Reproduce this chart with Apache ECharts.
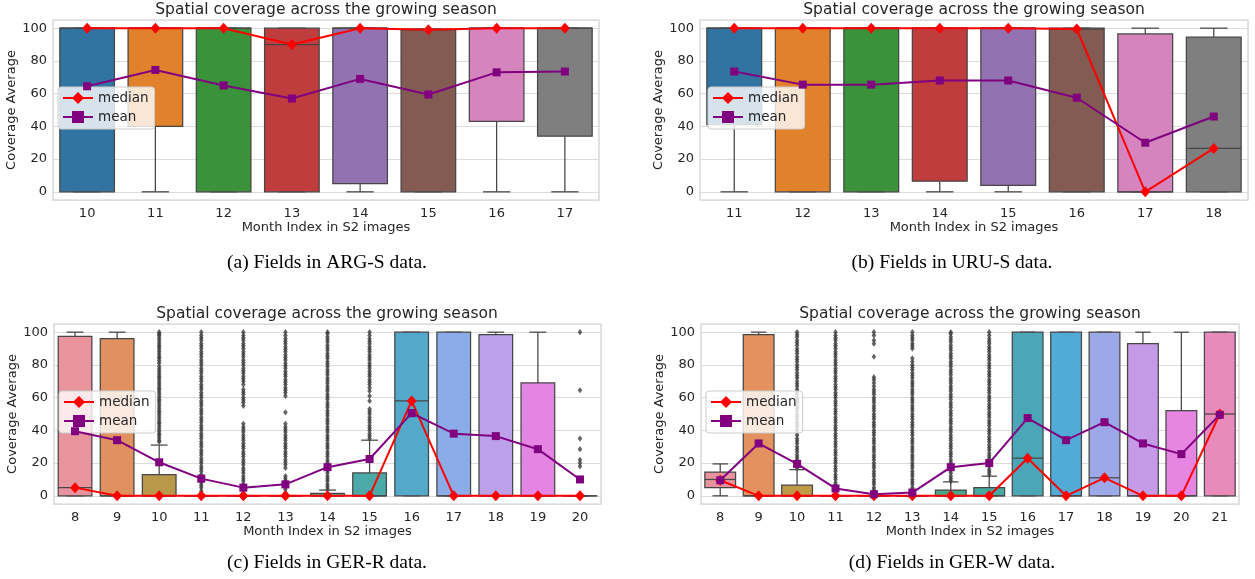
<!DOCTYPE html>
<html><head><meta charset="utf-8">
<script src="https://cdn.jsdelivr.net/npm/echarts@6/dist/echarts.min.js"></script>
<style>html,body{margin:0;padding:0;background:#fff}#c{width:1255px;height:579px}</style>
</head><body><div id="c"></div>
<script>
// ---------- DATA ----------
const catsA = ['10','11','12','13','14','15','16','17'];
const catsB = ['11','12','13','14','15','16','17','18'];
const catsC = ['8','9','10','11','12','13','14','15','16','17','18','19','20'];
const catsD = ['8','9','10','11','12','13','14','15','16','17','18','19','20','21'];
const yTicks = [0,20,40,60,80,100];

// boxes: [lowWhisker, q1, median, q3, highWhisker]
const boxesA = [[0,0,100,100,100],[0,40,100,100,100],[0,0,100,100,100],[0,0,90,100,100],[0,5,100,100,100],[0,0,99,99.5,99.5],[0,43,100,100,100],[0,34,100,100,100]];
const boxesB = [[0,41,100,100,100],[0,0,100,100,100],[0,0,100,100,100],[0,6.5,100,100,100],[0,4,100,100,100],[0,0,99.5,100,100],[0,0,0,96.5,100],[0,0,26.5,94.5,100]];
const boxesC = [[0,0,5,97.5,100],[0,0,0,96,100],[0,0,0,13,31],[0,0,0,0,0],[0,0,0,0,0],[0,0,0,0,0],[0,0,0,1.5,3.5],[0,0,0,14,34],[0,0,58,100,100],[0,0,0,100,100],[0,0,0,98.5,100],[0,0,0,69,100],[0,0,0,0,0]];
const boxesD = [[0,5,10,14.5,19.5],[0,0,0,98.5,100],[0,0,0,6.5,16],[0,0,0,0,0],[0,0,0,0,0],[0,0,0,0,0],[0,0,0,3.5,8.5],[0,0,0,5,12],[0,0,23,100,100],[0,0,0,100,100],[0,0,11,100,100],[0,0,0,93,100],[0,0,0,52,100],[0,0,50,100,100]];

const medianA = [100,100,100,90,100,99,100,100];
const meanA   = [64.5,74.5,65,57,69,59.5,73,73.5];
const medianB = [100,100,100,100,100,99.5,0,26.5];
const meanB   = [73.5,65.5,65.5,68,68,57.5,30,46];
const medianC = [5,0,0,0,0,0,0,0,58,0,0,0,0];
const meanC   = [39.5,34,20.5,10.5,5,7,17.5,22.5,50.5,38,36.5,28.5,10];
const medianD = [9.5,0,0,0,0,0,0,0,23,0,11,0,0,50];
const meanD   = [9.5,32,19.5,4.5,1,2,17.5,20,47.5,34,45,32,25.5,49.5];

// outliers per category
const fliersC = [[],[],
 [33,34,35.5,37,38,39.5,41,42.5,44,45,46.5,48,49.5,51,52,53.5,55,56.5,58,59,60.5,62,63.5,65,66,67.5,69,70.5,72,73,74.5,76,77.5,79,81,82.5,84,85,86.5,88,89.5,91,92,93.5,95,96.5,98,99,100],
 [0.5,1.5,3,5,6.5,8,10,11.5,13,15,16.5,18,20,21.5,23,25,26.5,28,30,31.5,33,35,36.5,38,40,41.5,43,45,46.5,48,50,51.5,53,55,56.5,58,60,61.5,63,65,66.5,68,70,71.5,73,75,76.5,78,80,81.5,83,85,86.5,88,90,91.5,93,95,96.5,98,100],
 [0.5,2,4,5.5,7,9,10.5,12,14,15.5,17,19,20.5,22,24,25.5,27,29,30.5,32,34,35.5,37,39,40.5,42,44,55,57,58.5,60,62,63.5,65,68,70,71.5,73,75,76.5,78,80,81.5,83,85,86.5,88,90,91.5,93,95,96.5,98,100],
 [0.5,2,4,5.5,7,9,10.5,12,17,19,20.5,22,24,25.5,27,29,30.5,32,34,35.5,37,39,40.5,42,44,51,61,63,64.5,66,68,69.5,71,73,74.5,76,78,79.5,81,83,84.5,86,88,89.5,91,93,94.5,96,98,100],
 [4,5.5,7,9,10.5,12,14,15.5,17,19,20.5,22,24,25.5,27,29,30.5,32,34,35.5,37,39,40.5,42,44,45.5,47,49,50.5,52,54,55.5,57,59,60.5,62,64,65.5,67,69,70.5,72,74,75.5,77,79,80.5,82,84,85.5,87,89,90.5,92,94,95.5,97,99,100],
 [35,36.5,38,40,41.5,43,45,46.5,48,50,51.5,53,58,61,64,66,68,69.5,71,73,74.5,76,78,79.5,81,83,84.5,86,88,89.5,91,93,94.5,96,98,100],
 [],[],[],[],
 [100,64.5,35,28.5,22,20,18]];
const fliersD = [[],[],
 [17,18.5,20,22,23.5,25,27,28.5,30,32,33.5,35,37,38.5,40,42,43.5,45,47,48.5,50,52,53.5,55,57,58.5,60,62,63.5,65,67,68.5,70,72,73.5,75,77,78.5,80,82,83.5,85,87,88.5,90,92,93.5,95,97,98.5,100],
 [0.5,1.5,3,5,6.5,8,10,11.5,13,15,16.5,18,20,21.5,23,25,26.5,28,30,31.5,33,35,36.5,38,40,41.5,43,45,46.5,48,50,51.5,53,55,56.5,58,60,61.5,63,65,66.5,68,70,71.5,73,75,76.5,78,80,81.5,83,85,86.5,88,90,91.5,93,95,96.5,98,100],
 [0.5,2,3.5,5,7,8.5,10,12,13.5,15,17,18.5,20,22,23.5,25,27,28.5,30,32,33.5,35,37,38.5,40,42,43.5,45,47,48.5,50,52,53.5,55,57,58.5,60,62,63.5,65,67,69,71,72.5,85,93,95,98,100],
 [0.5,2,3.5,5,7,8.5,10,12,13.5,15,17,18.5,20,22,23.5,25,27,28.5,30,32,33.5,35,37,38.5,40,42,43.5,45,47,48.5,50,52,53.5,55,57,58.5,60,62,63.5,65,67,68.5,70,72,73.5,75,77,78.5,80,82,84,90,91.5,93,95,96.5,98,100],
 [9,10.5,12,14,15.5,17,19,20.5,22,24,25.5,27,29,30.5,32,34,35.5,37,39,40.5,42,44,45.5,47,49,50.5,52,54,55.5,57,59,60.5,62,64,65.5,67,69,70.5,72,74,75.5,77,79,80.5,82,84,85.5,87,89,90.5,92,94,95.5,97,99,100],
 [13,14.5,16,18,19.5,21,23,24.5,26,28,29.5,31,33,34.5,36,38,39.5,41,43,44.5,46,48,49.5,51,53,54.5,56,58,59.5,61,63,64.5,66,68,69.5,71,73,74.5,76,78,79.5,81,83,84.5,86,88,89.5,91,93,94.5,96,98,100],
 [],[],[],[],[],[]];

// ---------- STYLE ----------
const palA = ['#3274a1','#e1812c','#3a923a','#c03d3e','#9372b2','#845b53','#d684bd','#7f7f7f'];
const palC = ['#e8939e','#e0915f','#b9984a','#9fa444','#6fab4c','#4aab82','#57a38c','#4baaa8','#52a9ca','#8bace6','#bca0e9','#e485e4','#e78ab9'];
const palD = ['#e8939e','#e2915f','#bf9a48','#a3a244','#79a94a','#4aab7a','#47a88a','#45aaa0','#4ba7b8','#52aad6','#9ca8e8','#c59ae6','#e686e2','#e88bbb'];
const EDGE = '#464646';
const FONT = 'DejaVu Sans';
const TXT = '#262626';

const panels = [
  {cats:catsA, boxes:boxesA, pal:palA, fliers:null, med:medianA, mean:meanA, g:{left:53,top:20,width:546,height:180}, lg:{left:58,top:87}, title:[326,10], cap:'(a) Fields in ARG-S data.', capPos:[327,263]},
  {cats:catsB, boxes:boxesB, pal:palA, fliers:null, med:medianB, mean:meanB, g:{left:700,top:20,width:548,height:180}, lg:{left:708,top:87}, title:[974,10], cap:'(b) Fields in URU-S data.', capPos:[952,263]},
  {cats:catsC, boxes:boxesC, pal:palC, fliers:fliersC, med:medianC, mean:meanC, g:{left:54,top:324,width:547,height:180}, lg:{left:59,top:391}, title:[327,314], cap:'(c) Fields in GER-R data.', capPos:[327,563]},
  {cats:catsD, boxes:boxesD, pal:palD, fliers:fliersD, med:medianD, mean:meanD, g:{left:701,top:324,width:538,height:180}, lg:{left:706,top:391}, title:[970,314], cap:'(d) Fields in GER-W data.', capPos:[952,563]}
];

const grid=[], xAxis=[], yAxis=[], series=[], legend=[], graphic=[];
panels.forEach((p,i)=>{
  grid.push(Object.assign({show:true, borderColor:'#d0d0d0', borderWidth:1.25, backgroundColor:'#fff'}, p.g));
  xAxis.push({type:'category', gridIndex:i, data:p.cats, axisLine:{show:false}, axisTick:{show:false},
    axisLabel:{fontFamily:FONT, fontSize:13, color:TXT, margin:7},
    name:'Month Index in S2 images', nameLocation:'middle', nameGap:21,
    nameTextStyle:{fontFamily:FONT, fontSize:13, color:TXT}});
  yAxis.push({type:'value', gridIndex:i, min:-5, max:105, axisLine:{show:false}, axisTick:{show:false},
    axisLabel:{fontFamily:FONT, fontSize:13, color:TXT, margin:6, showMinLabel:false, showMaxLabel:false,
      formatter:v=> yTicks.indexOf(v)>=0 ? String(v) : ''},
    splitLine:{lineStyle:{color:'#dcdcdc', width:1}},
    name:'Coverage Average', nameLocation:'middle', nameGap:34,
    nameTextStyle:{fontFamily:FONT, fontSize:13, color:TXT}});
  const pal = p.pal;
  series.push({type:'custom', xAxisIndex:i, yAxisIndex:i, z:2,
    data:p.boxes.map((b,k)=>[k].concat(b)),
    renderItem:(params, api)=>{
      const k=api.value(0);
      const lo=api.coord([k,api.value(1)]), q1=api.coord([k,api.value(2)]), md=api.coord([k,api.value(3)]), q3=api.coord([k,api.value(4)]), hi=api.coord([k,api.value(5)]);
      const band=api.size([1,0])[0], w=band*0.8, cw=w/2, x=q1[0];
      const ls={stroke:EDGE, lineWidth:1.25};
      return {type:'group', children:[
        {type:'line', shape:{x1:x,y1:q3[1],x2:x,y2:hi[1]}, style:ls},
        {type:'line', shape:{x1:x,y1:q1[1],x2:x,y2:lo[1]}, style:ls},
        {type:'line', shape:{x1:x-cw/2,y1:hi[1],x2:x+cw/2,y2:hi[1]}, style:ls},
        {type:'line', shape:{x1:x-cw/2,y1:lo[1],x2:x+cw/2,y2:lo[1]}, style:ls},
        {type:'rect', shape:{x:x-w/2,y:q3[1],width:w,height:Math.max(q1[1]-q3[1],0.01)}, style:{fill:pal[k], stroke:EDGE, lineWidth:1.25}},
        {type:'line', shape:{x1:x-w/2,y1:md[1],x2:x+w/2,y2:md[1]}, style:ls}
      ]};
    }});
  if (p.fliers){
    const pts=[];
    p.fliers.forEach((arr,k)=>arr.forEach(v=>pts.push([k,v])));
    series.push({type:'scatter', xAxisIndex:i, yAxisIndex:i, z:3, data:pts, symbol:'diamond', symbolSize:[4.6,6.2],
      itemStyle:{color:'#3d3d3d'}, silent:true});
  }
  series.push({name:'median', type:'line', xAxisIndex:i, yAxisIndex:i, z:4, data:p.med, symbol:'diamond', symbolSize:[10,11],
    lineStyle:{color:'#ff0000', width:2}, itemStyle:{color:'#ff0000'}});
  series.push({name:'mean', type:'line', xAxisIndex:i, yAxisIndex:i, z:4, data:p.mean, symbol:'rect', symbolSize:8,
    lineStyle:{color:'#800080', width:2}, itemStyle:{color:'#800080'}});
  legend.push({left:p.lg.left, top:p.lg.top, orient:'vertical', data:['median','mean'], itemWidth:30, itemHeight:15, itemGap:5,
    padding:[4,6,5,4], backgroundColor:'rgba(255,255,255,0.8)', borderColor:'#cccccc', borderWidth:1, borderRadius:3,
    textStyle:{fontFamily:FONT, fontSize:13.5, color:TXT}, selectedMode:false});
  graphic.push({type:'text', x:p.title[0], y:p.title[1], style:{text:'Spatial coverage across the growing season', fontFamily:FONT, fontSize:15.5, fill:TXT, align:'center', verticalAlign:'middle'}});
  graphic.push({type:'text', x:p.capPos[0], y:p.capPos[1], style:{text:p.cap, fontFamily:'Liberation Serif', fontSize:19.5, fill:'#000', align:'center', verticalAlign:'middle'}});
});

const chart = echarts.init(document.getElementById('c'), null, {renderer:'canvas'});
chart.setOption({animation:false, backgroundColor:'#fff', grid, xAxis, yAxis, series, legend, graphic});
</script></body></html>
